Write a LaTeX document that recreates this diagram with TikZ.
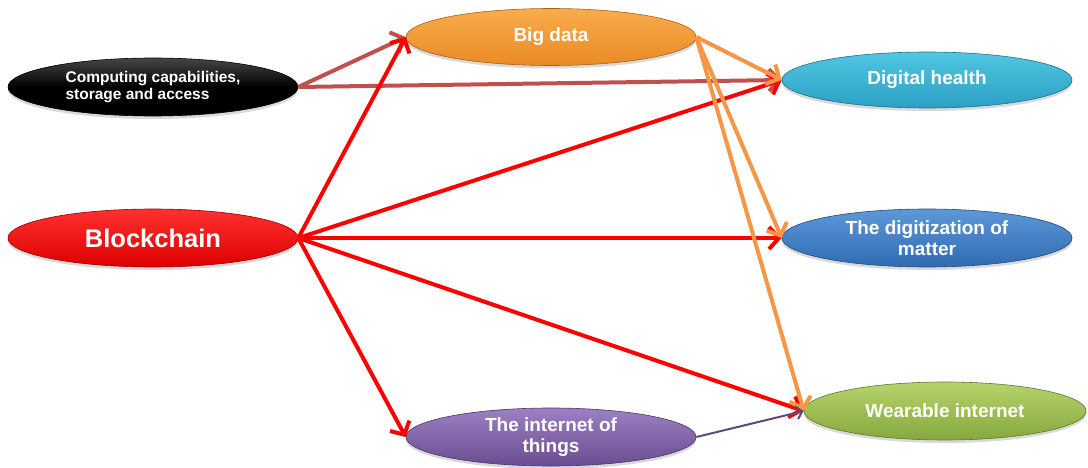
\documentclass[tikz,border=0pt]{standalone}
\usepackage{fontspec}
\setmainfont{Liberation Sans}
\usetikzlibrary{shapes.geometric,arrows.meta,shadows}
\definecolor{bcred}{HTML}{FF0000}
\definecolor{brownred}{HTML}{C0504D}
\definecolor{orangeln}{HTML}{F79646}
\definecolor{purpleln}{HTML}{5F497A}
\definecolor{bdtop}{HTML}{F9AC4C}
\definecolor{bdbot}{HTML}{EA8A26}
\definecolor{dhtop}{HTML}{52C6E2}
\definecolor{dhbot}{HTML}{2AA0C4}
\definecolor{dmtop}{HTML}{5D98D8}
\definecolor{dmbot}{HTML}{2F6BB2}
\definecolor{iottop}{HTML}{9B80C2}
\definecolor{iotbot}{HTML}{6A4D90}
\definecolor{witop}{HTML}{B6D46C}
\definecolor{wibot}{HTML}{86A83E}
\definecolor{bctop}{HTML}{FF3030}
\definecolor{bcbot}{HTML}{DD0000}
\begin{document}
\begin{tikzpicture}[x=1pt,y=-1pt,
  oval/.style={ellipse, minimum width=290pt, minimum height=58pt, inner sep=0pt,
    align=center, text=white, font=\fontsize{19}{21}\selectfont\bfseries,
    line width=0.6pt, drop shadow={opacity=0.3, shadow xshift=0pt, shadow yshift=-3pt}},
  arr/.style={line width=4pt, -{Straight Barb[length=10pt,width=22pt]}},
  redarr/.style={arr, draw=bcred},
  brownarr/.style={arr, draw=brownred},
  orangearr/.style={arr, draw=orangeln},
  purplearr/.style={line width=2pt, draw=purpleln, -{Straight Barb[length=6pt,width=13pt]}}
]
\useasboundingbox (0,0) rectangle (1088,468);
\node[oval, draw=black, top color=gray!55!black, bottom color=black, middle color=black,
  align=left, font=\fontsize{15.5}{17}\selectfont\bfseries] (comp) at (153,87)
  {Computing capabilities,\\storage and access};
\node[oval, minimum height=57pt, draw=bdbot!70!black, top color=bdtop, bottom color=bdbot] (big) at (551,37) {Big data};
\node[oval, minimum height=56pt, draw=dhbot!70!black, top color=dhtop, bottom color=dhbot] (dh) at (927,80) {Digital health};
\node[oval, draw=bcbot!70!black, top color=bctop, bottom color=bcbot,
  font=\fontsize{25.5}{28}\selectfont\bfseries] (bc) at (153,238) {Blockchain};
\node[oval, draw=dmbot!70!black, top color=dmtop, bottom color=dmbot] (dm) at (927,238) {The digitization of\\matter};
\node[oval, draw=iotbot!70!black, top color=iottop, bottom color=iotbot] (iot) at (551,437) {The internet of\\things};
\node[oval, minimum width=282pt, draw=wibot!70!black, top color=witop, bottom color=wibot] (wi) at (945,411) {Wearable internet};

\draw[brownarr] (comp.east) -- (big.west);
\draw[brownarr] (comp.east) -- (dh.west);
\draw[redarr] (bc.east) -- (big.west);
\draw[redarr] (bc.east) -- (dh.west);
\draw[redarr] (bc.east) -- (dm.west);
\draw[redarr] (bc.east) -- (wi.west);
\draw[redarr] (bc.east) -- (iot.west);
\draw[orangearr] (big.east) -- (dh.west);
\draw[orangearr] (big.east) -- (dm.west);
\draw[orangearr] (big.east) -- (wi.west);
\draw[purplearr] (iot.east) -- (wi.west);
\end{tikzpicture}
\end{document}
